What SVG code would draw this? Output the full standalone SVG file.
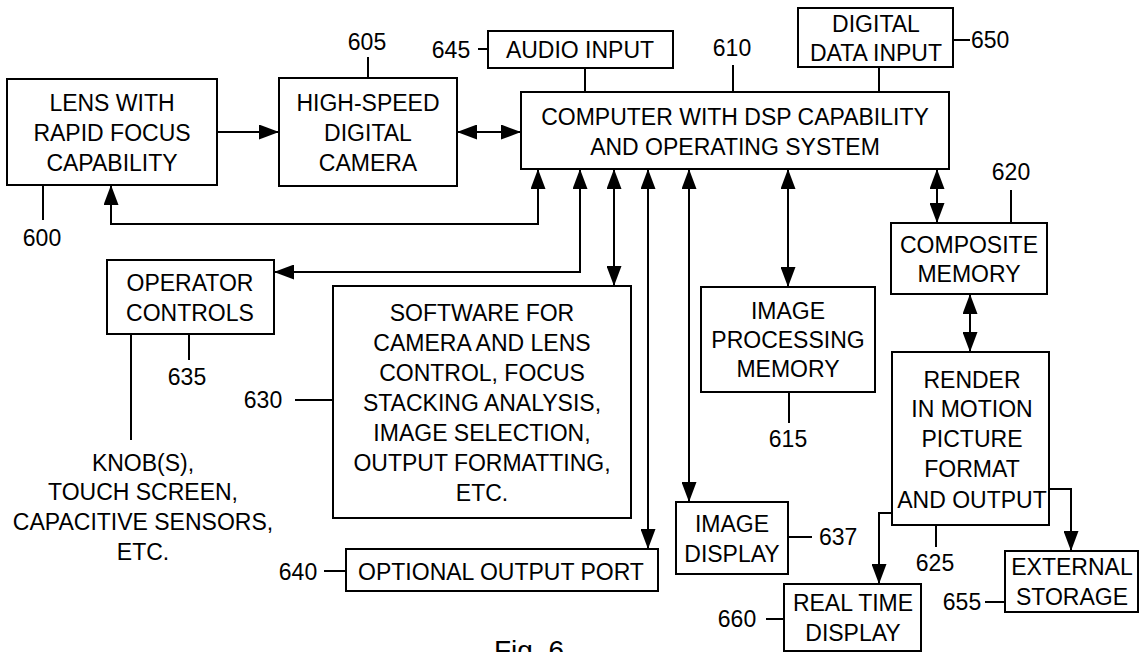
<svg xmlns="http://www.w3.org/2000/svg" width="1140" height="652" viewBox="0 0 1140 652">
<defs>
<marker id="ah" viewBox="0 0 20 15" refX="20" refY="7.5" markerWidth="20" markerHeight="15" markerUnits="userSpaceOnUse" orient="auto-start-reverse">
<path d="M0,0 L20,7.5 L0,15 Z" fill="#000"/>
</marker>
<style>
rect{fill:#fff;stroke:#000;stroke-width:2}
text{font-family:"Liberation Sans",Arial,sans-serif;font-size:23px;fill:#000;text-anchor:middle}
.lead line{stroke:#000;stroke-width:2}
.conn path{fill:none;stroke:#000;stroke-width:2}
.one{marker-end:url(#ah)}
.two{marker-start:url(#ah);marker-end:url(#ah)}
</style>
</defs>
<rect x="0" y="0" width="1140" height="652" style="stroke:none"/>
<g id="connectors" class="conn">
<path class="one" d="M217,132 H279"/>
<path class="two" d="M457,132 H521"/>
<path class="two" d="M538,169 V224 H111 V185"/>
<path class="two" d="M580,169 V272 H274"/>
<path class="two" d="M614,169 V286"/>
<path class="two" d="M648,169 V549"/>
<path class="two" d="M689,169 V502"/>
<path class="two" d="M788,169 V287"/>
<path class="two" d="M937,169 V223"/>
<path class="two" d="M970,294 V352"/>
<path class="one" d="M892,513 H879 V584"/>
<path class="one" d="M1049,489 H1071 V551"/>
</g>
<g id="leaders" class="lead">
<line x1="43" y1="185" x2="43" y2="220"/>
<line x1="368" y1="57" x2="368" y2="78"/>
<line x1="478" y1="49" x2="488" y2="49"/>
<line x1="733" y1="65" x2="733" y2="92"/>
<line x1="585" y1="68" x2="585" y2="92"/>
<line x1="879" y1="67" x2="879" y2="92"/>
<line x1="953" y1="40" x2="970" y2="40"/>
<line x1="1011" y1="190" x2="1011" y2="223"/>
<line x1="189" y1="334" x2="189" y2="360"/>
<line x1="131" y1="334" x2="131" y2="440"/>
<line x1="295" y1="400" x2="333" y2="400"/>
<line x1="789" y1="392" x2="789" y2="423"/>
<line x1="788" y1="537" x2="812" y2="537"/>
<line x1="936" y1="525" x2="936" y2="547"/>
<line x1="324" y1="571" x2="346" y2="571"/>
<line x1="766" y1="619" x2="784" y2="619"/>
<line x1="985" y1="602" x2="1005" y2="602"/>
</g>
<g id="n600">
<rect x="7" y="79" width="210" height="106"/>
<text x="112" y="111">LENS WITH</text>
<text x="112" y="141">RAPID FOCUS</text>
<text x="112" y="171">CAPABILITY</text>
<text x="42" y="246">600</text>
</g>
<g id="n605">
<rect x="279" y="78" width="178" height="108"/>
<text x="368" y="111">HIGH-SPEED</text>
<text x="368" y="141">DIGITAL</text>
<text x="368" y="171">CAMERA</text>
<text x="367" y="50">605</text>
</g>
<g id="n645">
<rect x="488" y="31" width="185" height="37"/>
<text x="580" y="58">AUDIO INPUT</text>
<text x="451" y="58">645</text>
</g>
<g id="n650">
<rect x="798" y="8" width="155" height="59"/>
<text x="876" y="32">DIGITAL</text>
<text x="876" y="61">DATA INPUT</text>
<text x="971" y="48" style="text-anchor:start">650</text>
</g>
<g id="n610">
<rect x="521" y="92" width="428" height="77"/>
<text x="735" y="125">COMPUTER WITH DSP CAPABILITY</text>
<text x="735" y="155">AND OPERATING SYSTEM</text>
<text x="732" y="56">610</text>
</g>
<g id="n620">
<rect x="891" y="223" width="156" height="71"/>
<text x="969" y="253">COMPOSITE</text>
<text x="969" y="282">MEMORY</text>
<text x="1011" y="180">620</text>
</g>
<g id="n615">
<rect x="701" y="287" width="174" height="105"/>
<text x="788" y="319">IMAGE</text>
<text x="788" y="348">PROCESSING</text>
<text x="788" y="377">MEMORY</text>
<text x="788" y="447">615</text>
</g>
<g id="n625">
<rect x="892" y="352" width="157" height="173"/>
<text x="972" y="388">RENDER</text>
<text x="972" y="417">IN MOTION</text>
<text x="972" y="447">PICTURE</text>
<text x="972" y="477">FORMAT</text>
<text x="972" y="508">AND OUTPUT</text>
<text x="935" y="571">625</text>
</g>
<g id="n635">
<rect x="107" y="260" width="167" height="74"/>
<text x="190" y="291">OPERATOR</text>
<text x="190" y="321">CONTROLS</text>
<text x="187" y="385">635</text>
<text x="143" y="471">KNOB(S),</text>
<text x="143" y="500">TOUCH SCREEN,</text>
<text x="143" y="530">CAPACITIVE SENSORS,</text>
<text x="143" y="560">ETC.</text>
</g>
<g id="n630">
<rect x="333" y="286" width="298" height="232"/>
<text x="482" y="321">SOFTWARE FOR</text>
<text x="482" y="351">CAMERA AND LENS</text>
<text x="482" y="381">CONTROL, FOCUS</text>
<text x="482" y="411">STACKING ANALYSIS,</text>
<text x="482" y="441">IMAGE SELECTION,</text>
<text x="482" y="471">OUTPUT FORMATTING,</text>
<text x="482" y="501">ETC.</text>
<text x="263" y="408">630</text>
</g>
<g id="n640">
<rect x="346" y="549" width="312" height="42"/>
<text x="501" y="580">OPTIONAL OUTPUT PORT</text>
<text x="298" y="580">640</text>
</g>
<g id="n637">
<rect x="676" y="502" width="112" height="72"/>
<text x="732" y="532">IMAGE</text>
<text x="732" y="562">DISPLAY</text>
<text x="819" y="545" style="text-anchor:start">637</text>
</g>
<g id="n660">
<rect x="784" y="584" width="137" height="67"/>
<text x="853" y="611">REAL TIME</text>
<text x="853" y="641">DISPLAY</text>
<text x="737" y="627">660</text>
</g>
<g id="n655">
<rect x="1005" y="551" width="133" height="61"/>
<text x="1072" y="575">EXTERNAL</text>
<text x="1072" y="605">STORAGE</text>
<text x="962" y="610">655</text>
</g>
<text x="529" y="660" style="font-size:28px">Fig. 6</text>
</svg>
